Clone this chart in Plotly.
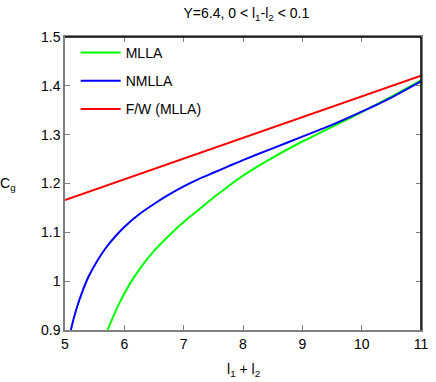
import plotly.graph_objects as go

# Data
mlla_x = [5.716, 5.90, 6.10, 6.30, 6.50, 6.75, 7.0, 7.25, 7.5, 7.75, 8.0, 8.5, 9.0, 9.5, 10.0, 10.5, 11.0]
mlla_y = [0.900, 0.951, 0.996, 1.032, 1.062, 1.093, 1.121, 1.146, 1.171, 1.194, 1.216, 1.253, 1.286, 1.316, 1.346, 1.378, 1.411]

nmlla_x = [5.099, 5.15, 5.20, 5.30, 5.40, 5.55, 5.70, 5.85, 6.00, 6.25, 6.50, 6.75, 7.0, 7.25, 7.5, 7.75, 8.0, 8.5, 9.0, 9.5, 10.0, 10.5, 11.0]
nmlla_y = [0.900, 0.925, 0.946, 0.981, 1.010, 1.043, 1.070, 1.092, 1.111, 1.137, 1.158, 1.177, 1.194, 1.209, 1.222, 1.235, 1.248, 1.272, 1.296, 1.320, 1.347, 1.376, 1.409]

fw_x = [5.0, 11.0]
fw_y = [1.166, 1.421]

x_ticks = [5, 6, 7, 8, 9, 10, 11]
y_ticks = [0.9, 1.0, 1.1, 1.2, 1.3, 1.4, 1.5]

FONT = "Liberation Sans, Arial, sans-serif"

fig = go.Figure()
fig.add_trace(go.Scatter(x=mlla_x, y=mlla_y, mode="lines", name="MLLA",
                         line=dict(color="#00ff00", width=2, shape="spline", smoothing=0.6),
                         legendgroup="a"))
fig.add_trace(go.Scatter(x=nmlla_x, y=nmlla_y, mode="lines", name="NMLLA",
                         line=dict(color="#0000ff", width=2, shape="spline", smoothing=0.6),
                         legendgroup="b"))
fig.add_trace(go.Scatter(x=fw_x, y=fw_y, mode="lines", name="F/W (MLLA)",
                         line=dict(color="#ff0000", width=2),
                         legendgroup="c"))

axis_common = dict(showgrid=False, zeroline=False, showline=True,
                   linecolor="#808080", linewidth=1.5, mirror="allticks",
                   ticks="inside", ticklen=5, tickcolor="#808080", tickwidth=1,
                   tickfont=dict(family=FONT, size=14, color="#000"))

fig.update_xaxes(range=[5, 11], tickvals=x_ticks, **axis_common)
fig.update_yaxes(range=[0.9, 1.5], tickvals=y_ticks, **axis_common)

fig.update_layout(
    width=436, height=382,
    margin=dict(l=65, r=8, t=37, b=52),
    paper_bgcolor="white", plot_bgcolor="white",
    font=dict(family=FONT, size=14, color="#000"),
    title=dict(text="Y=6.4, 0 &lt; l<sub>1</sub>-l<sub>2</sub> &lt; 0.1",
               x=0.565, xanchor="center", y=0.965, yanchor="middle",
               font=dict(family=FONT, size=14)),
    legend=dict(x=0.03, y=1.0, xanchor="left", yanchor="top",
                bgcolor="rgba(0,0,0,0)", borderwidth=0,
                font=dict(family=FONT, size=14),
                itemwidth=40, tracegroupgap=7),
    showlegend=True,
    shapes=[
        dict(type="line", xref="paper", yref="paper", x0=0, x1=1, y0=1, y1=1,
             line=dict(color="#000", width=1.5)),
        dict(type="line", xref="paper", yref="paper", x0=1, x1=1, y0=0, y1=1,
             line=dict(color="#000", width=1.5)),
    ],
    annotations=[
        dict(text="C<sub>g</sub>", xref="paper", yref="paper", x=-0.16, y=0.5,
             xanchor="center", yanchor="middle", showarrow=False,
             font=dict(family=FONT, size=14)),
        dict(text="l<sub>1</sub> + l<sub>2</sub>", xref="paper", yref="paper",
             x=0.5, y=-0.135, xanchor="center", yanchor="middle", showarrow=False,
             font=dict(family=FONT, size=14)),
    ],
)

fig.write_html("out.html", config={"displayModeBar": False},
               post_script="document.body.style.margin='0';")
